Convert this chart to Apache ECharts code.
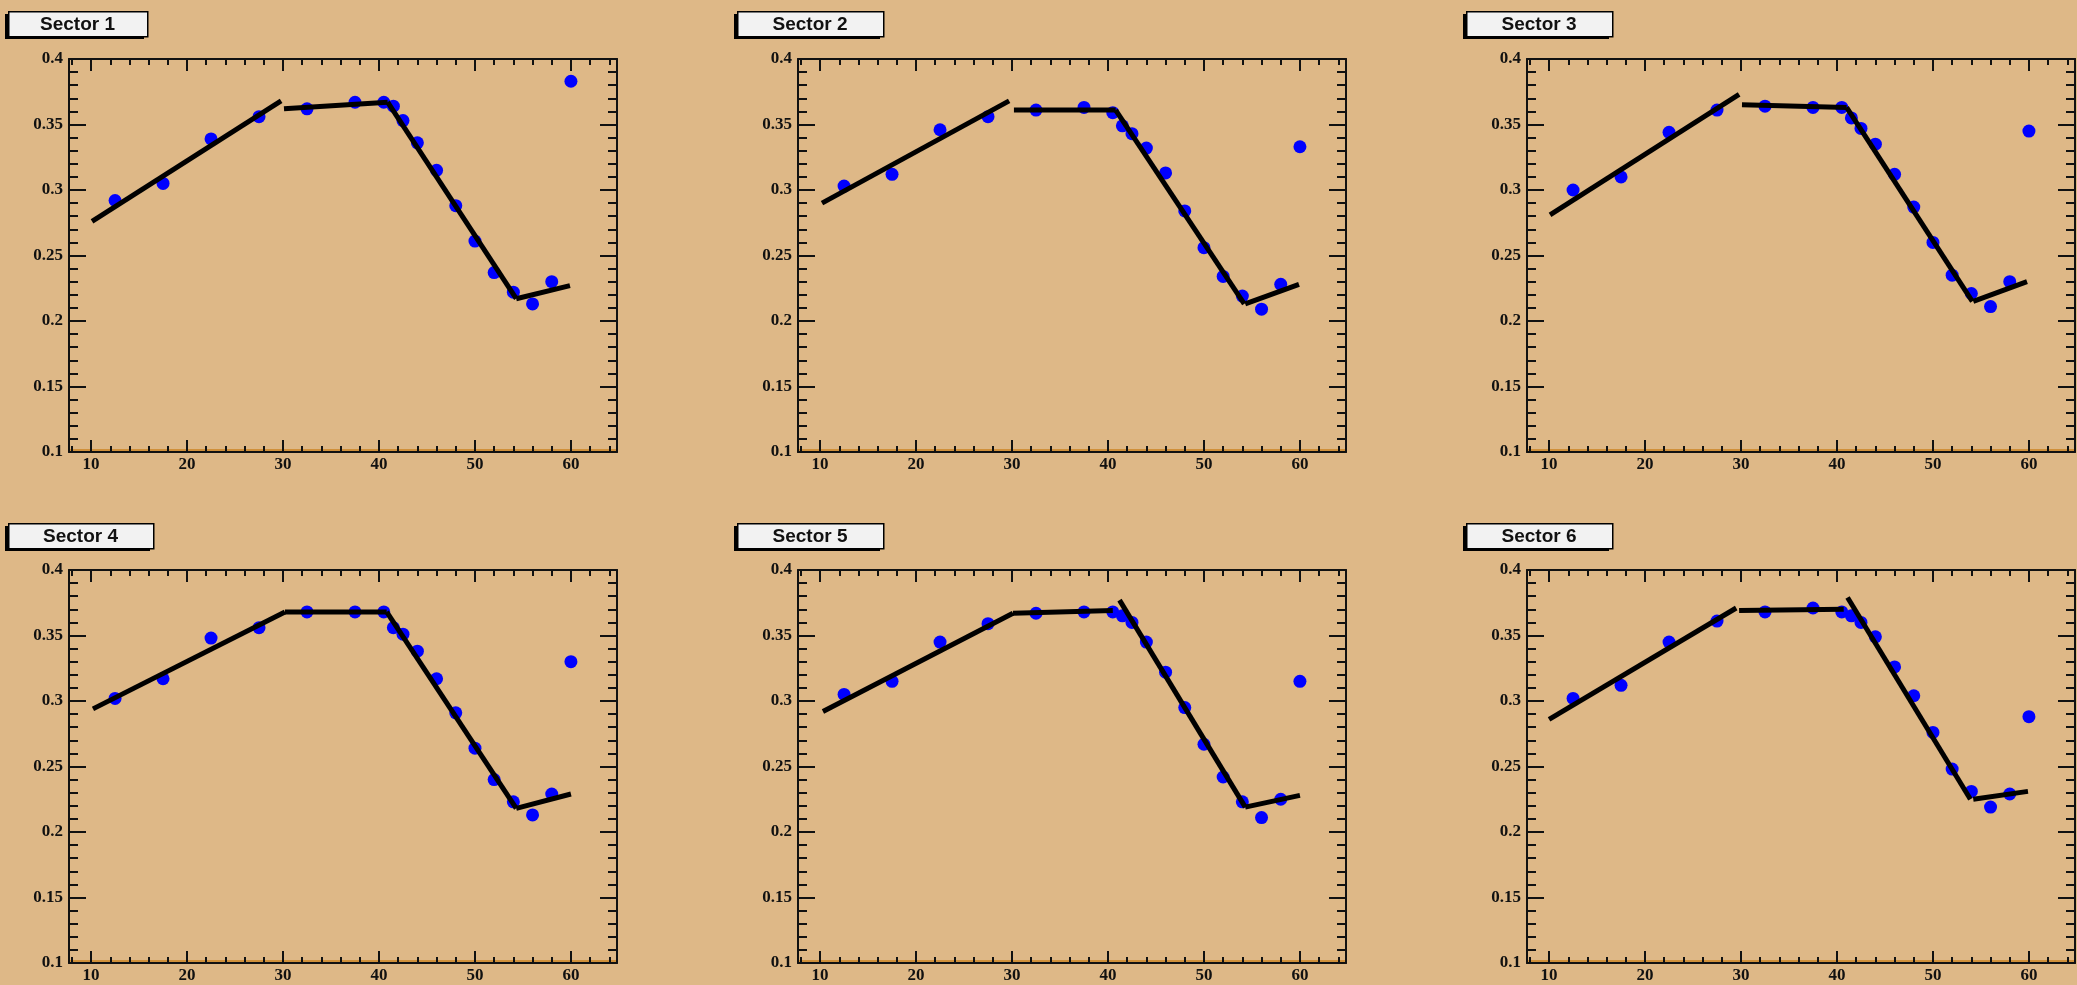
<!DOCTYPE html>
<html><head><meta charset="utf-8">
<script src="https://cdn.jsdelivr.net/npm/echarts@6/dist/echarts.min.js"></script>
<style>html,body{margin:0;padding:0;background:#deb887;overflow:hidden}#c{width:2077px;height:985px;}</style>
</head><body><div id="c"></div>
<script>
// ---------------- data ----------------
const sectorNames = ['Sector 1', 'Sector 2', 'Sector 3', 'Sector 4', 'Sector 5', 'Sector 6'];
const xValues = [12.5, 17.5, 22.5, 27.5, 32.5, 37.5, 40.5, 41.5, 42.5, 44, 46, 48, 50, 52, 54, 56, 58, 60];

const sector1Y = [0.292, 0.305, 0.339, 0.356, 0.362, 0.367, 0.367, 0.364, 0.353, 0.336, 0.315, 0.288, 0.261, 0.237, 0.222, 0.213, 0.230, 0.383];
const sector2Y = [0.303, 0.312, 0.346, 0.356, 0.361, 0.363, 0.359, 0.349, 0.343, 0.332, 0.313, 0.284, 0.256, 0.234, 0.219, 0.209, 0.228, 0.333];
const sector3Y = [0.300, 0.310, 0.344, 0.361, 0.364, 0.363, 0.363, 0.355, 0.347, 0.335, 0.312, 0.287, 0.260, 0.235, 0.221, 0.211, 0.230, 0.345];
const sector4Y = [0.302, 0.317, 0.348, 0.356, 0.368, 0.368, 0.368, 0.356, 0.351, 0.338, 0.317, 0.291, 0.264, 0.240, 0.223, 0.213, 0.229, 0.330];
const sector5Y = [0.305, 0.315, 0.345, 0.359, 0.367, 0.368, 0.368, 0.365, 0.360, 0.345, 0.322, 0.295, 0.267, 0.242, 0.223, 0.211, 0.225, 0.315];
const sector6Y = [0.302, 0.312, 0.345, 0.361, 0.368, 0.371, 0.368, 0.365, 0.360, 0.349, 0.326, 0.304, 0.276, 0.248, 0.231, 0.219, 0.229, 0.288];

// piecewise fit segments: [[x0,y0],[x1,y1]]
const sector1Fit = [[[10.1, 0.276], [29.8, 0.368]], [[30.1, 0.362], [40.9, 0.367]], [[40.9, 0.367], [54.3, 0.217]], [[54.3, 0.217], [59.9, 0.227]]];
const sector2Fit = [[[10.2, 0.290], [29.7, 0.368]], [[30.2, 0.361], [40.8, 0.361]], [[40.8, 0.361], [54.2, 0.213]], [[54.3, 0.213], [59.9, 0.228]]];
const sector3Fit = [[[10.1, 0.281], [29.8, 0.373]], [[30.1, 0.365], [41.0, 0.363]], [[41.0, 0.363], [54.1, 0.215]], [[54.2, 0.215], [59.8, 0.230]]];
const sector4Fit = [[[10.2, 0.294], [30.2, 0.368]], [[30.2, 0.368], [40.8, 0.368]], [[40.8, 0.368], [54.3, 0.218]], [[54.3, 0.218], [60.0, 0.229]]];
const sector5Fit = [[[10.3, 0.292], [30.1, 0.367]], [[30.1, 0.367], [40.5, 0.369]], [[41.2, 0.377], [54.3, 0.219]], [[54.3, 0.219], [60.0, 0.228]]];
const sector6Fit = [[[10.0, 0.286], [29.5, 0.371]], [[29.8, 0.369], [40.7, 0.370]], [[41.1, 0.379], [53.9, 0.225]], [[54.2, 0.225], [59.9, 0.231]]];

const xTickLabels = [10, 20, 30, 40, 50, 60];
const xMinorTicks = [8, 12, 14, 16, 18, 22, 24, 26, 28, 32, 34, 36, 38, 42, 44, 46, 48, 52, 54, 56, 58, 62, 64];
const xRange = [7.7, 64.8];
const yRange = [0.1, 0.4];
const yStep = 0.05;

const allY = [sector1Y, sector2Y, sector3Y, sector4Y, sector5Y, sector6Y];
const allFit = [sector1Fit, sector2Fit, sector3Fit, sector4Fit, sector5Fit, sector6Fit];

// ---------------- layout ----------------
const BG = '#deb887';
const panelLeft = [69, 798, 1527];
const panelTop = [59, 570];
const plotW = 548, plotH = 393;
const boxLeft = [8, 737, 1466];
const boxTop = [11, 523];
const boxW = [139, 146, 146, 145, 146, 146];
const boxH = 25;

const labelFont = { fontFamily: 'Liberation Serif', fontWeight: 'bold', fontSize: 17, color: '#111' };
const axisLine = { show: true, lineStyle: { color: '#111', width: 2 } };

const grid = [], xAxis = [], yAxis = [], series = [], graphic = [];

for (let i = 0; i < 6; i++) {
  const col = i % 3, row = Math.floor(i / 3);
  grid.push({ left: panelLeft[col], top: panelTop[row], width: plotW, height: plotH, containLabel: false });
  const base = { gridIndex: i, type: 'value', min: xRange[0], max: xRange[1], splitLine: { show: false } };
  // bottom major (labels)
  xAxis.push(Object.assign({}, base, {
    position: 'bottom', z: 5, axisLine: axisLine,
    axisTick: { show: true, inside: true, length: 12, customValues: xTickLabels, lineStyle: { color: '#111', width: 2 } },
    axisLabel: Object.assign({ show: true, margin: 4, customValues: xTickLabels }, labelFont)
  }));
  // bottom minor
  xAxis.push(Object.assign({}, base, {
    position: 'bottom', z: 5, axisLine: { show: false },
    axisTick: { show: true, inside: true, length: 6, customValues: xMinorTicks, lineStyle: { color: '#111', width: 2 } },
    axisLabel: { show: false }
  }));
  // top major
  xAxis.push(Object.assign({}, base, {
    position: 'top', z: 5, axisLine: axisLine,
    axisTick: { show: true, inside: true, length: 12, customValues: xTickLabels, lineStyle: { color: '#111', width: 2 } },
    axisLabel: { show: false }
  }));
  // top minor
  xAxis.push(Object.assign({}, base, {
    position: 'top', z: 5, axisLine: { show: false },
    axisTick: { show: true, inside: true, length: 6, customValues: xMinorTicks, lineStyle: { color: '#111', width: 2 } },
    axisLabel: { show: false }
  }));
  // thin orange band just above the bottom frame line
  xAxis.push(Object.assign({}, base, {
    position: 'bottom', z: 4, offset: -2, axisLine: { show: true, lineStyle: { color: '#d0903a', width: 2 } },
    axisTick: { show: false }, axisLabel: { show: false }
  }));
  const ybase = { gridIndex: i, type: 'value', min: yRange[0], max: yRange[1], interval: yStep, splitLine: { show: false }, z: 5,
    axisLine: axisLine,
    axisTick: { show: true, inside: true, length: 17, lineStyle: { color: '#111', width: 2 } },
    minorTick: { show: true, splitNumber: 5, length: 9, lineStyle: { color: '#111', width: 2 } } };
  yAxis.push(Object.assign({}, ybase, { position: 'left',
    axisLabel: Object.assign({ show: true, margin: 6, formatter: v => String(+v.toFixed(2)) }, labelFont) }));
  yAxis.push(Object.assign({}, ybase, { position: 'right', axisLabel: { show: false } }));

  series.push({
    type: 'scatter', xAxisIndex: 5 * i, yAxisIndex: 2 * i, z: 2,
    symbol: 'circle', symbolSize: 13, itemStyle: { color: '#0000ff', opacity: 1 },
    data: xValues.map((x, k) => [x, allY[i][k]])
  });
  allFit[i].forEach(seg => {
    series.push({
      type: 'line', xAxisIndex: 5 * i, yAxisIndex: 2 * i, z: 3,
      symbol: 'none', lineStyle: { color: '#000', width: 5 }, data: seg
    });
  });

  // sector label box
  const bx = boxLeft[col], by = boxTop[row], bw = boxW[i];
  graphic.push({ type: 'rect', left: bx - 3, top: by + 3, shape: { width: bw, height: boxH }, style: { fill: '#000' }, z: 10 });
  graphic.push({ type: 'rect', left: bx, top: by, shape: { width: bw, height: boxH }, style: { fill: '#f2f2f2', stroke: '#000', lineWidth: 1.5 }, z: 11 });
  graphic.push({ type: 'text', x: bx + bw / 2, y: by + boxH / 2 + 1, z: 12,
    style: { text: sectorNames[i], fill: '#111', font: 'bold 19px "Liberation Sans"', textAlign: 'center', textVerticalAlign: 'middle' } });
}

const chart = echarts.init(document.getElementById('c'), null, { renderer: 'canvas' });
chart.setOption({ backgroundColor: BG, animation: false, grid, xAxis, yAxis, series, graphic });
</script></body></html>
